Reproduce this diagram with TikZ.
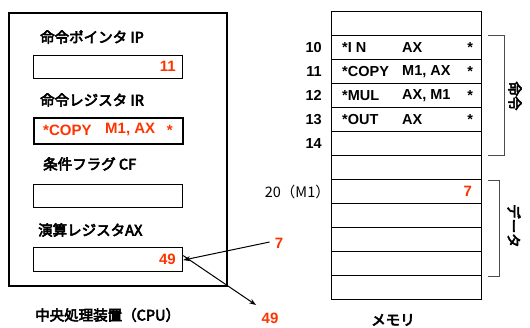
\documentclass[tikz,border=0pt]{standalone}
\usepackage{fontspec}
\setmainfont{Noto Sans CJK JP}
\newfontfamily\jpb{Noto Sans CJK JP}[FakeBold=4]
\newfontfamily\arb{Liberation Sans}[UprightFont={* Bold}]
\usetikzlibrary{arrows.meta}
\definecolor{vred}{HTML}{FF3300}
\tikzset{
  lbl/.style={font=\fontsize{14.5}{16}\selectfont\jpb, inner sep=0pt, anchor=west},
  regbox/.style={draw, line width=1.2pt, minimum width=149pt, minimum height=23pt, anchor=north west, inner sep=0pt},
  cell/.style={draw, line width=1.2pt, minimum width=150pt, minimum height=24pt, anchor=north west, inner sep=0pt},
  mtxt/.style={font=\fontsize{14.5}{16}\selectfont\arb, inner sep=0pt},
  val/.style={font=\fontsize{15}{17}\selectfont\arb, text=vred, inner sep=0pt},
  arr/.style={line width=1pt, -{Stealth[length=7pt,width=5pt]}},
  brk/.style={line width=0.9pt, draw=black!70}
}
\begin{document}
\begin{tikzpicture}[x=1pt,y=-1pt]
\useasboundingbox (0,0) rectangle (530,328);
% CPU
\node[draw, line width=2pt, minimum width=218pt, minimum height=273pt, anchor=north west, inner sep=0pt] (cpu) at (8,12) {};
\node[lbl] (ipL) at (40,37) {命令ポインタ IP};
\node[regbox] (ip) at (33,55) {};
\node[val, anchor=east] (ipv) at (176,66.5) {11};
\node[lbl] (irL) at (40,100) {命令レジスタ IR};
\node[regbox, line width=2pt, minimum height=26pt] (ir) at (33,117) {};
\node[val, anchor=west] (ir1) at (43,130) {*COPY};
\node[val, anchor=west] (ir2) at (105,130) {M1, AX};
\node[val, anchor=east] (ir3) at (173,130) {*};
\node[lbl] (cfL) at (43,164) {条件フラグ CF};
\node[regbox] (cf) at (33,184) {};
\node[lbl] (axL) at (38,230) {演算レジスタAX};
\node[regbox, minimum height=24pt] (ax) at (33,247) {};
\node[val, anchor=east] (axv) at (176,259.5) {49};
\node[lbl] (cpuL) at (35,315) {中央処理装置（CPU）};
% values outside
\node[val] (v7) at (279,243) {7};
\node[val] (v49) at (270,318) {49};
\draw[arr] (v7.west) ++(-5,-1) -- ([yshift=-0.5pt]ax.east);
\coordinate (o49) at (256,305);
\draw[arr] ([yshift=4pt]ax.east) -- (o49);
% memory
\foreach \i in {0,...,11}{
  \node[cell] (m\i) at (331,{11+24*\i}) {};
}
\foreach \i/\a in {1/10,2/11,3/12,4/13,5/14}{
  \node[mtxt, anchor=east] (a\i) at ([xshift=-9pt]m\i.west) {\a};
}
\node[anchor=east, inner sep=0pt, font=\fontsize{14.5}{16}\selectfont] (a7) at ([xshift=-1pt]m7.west) {20（M1）};
\foreach \i/\op/\ar in {1/{*I N}/AX,2/*COPY/{M1, AX},3/*MUL/{AX, M1},4/*OUT/AX}{
  \node[mtxt, anchor=west] (op\i) at ([xshift=11pt]m\i.west) {\op};
  \node[mtxt, anchor=west] (ar\i) at ([xshift=71pt]m\i.west) {\ar};
  \node[mtxt, anchor=east] (st\i) at ([xshift=-9pt]m\i.east) {*};
}
\node[val, anchor=east] (m7v) at ([xshift=-10pt]m7.east) {7};
% brackets
\coordinate (b1t) at (488,35);
\coordinate (b1b) at (488,155);
\draw[brk] (b1t) -- ++(16,0) |- (b1b);
\node[lbl, anchor=center, rotate=-90] (cmdL) at (515,96) {命令};
\coordinate (b2t) at (488,180);
\coordinate (b2b) at (488,276);
\draw[brk] (b2t) -- ++(11,0) |- (b2b);
\node[lbl, anchor=center, rotate=-90] (datL) at (514,226) {データ};
\node[lbl, anchor=center] (memL) at (393,320) {メモリ};
\end{tikzpicture}
\end{document}
